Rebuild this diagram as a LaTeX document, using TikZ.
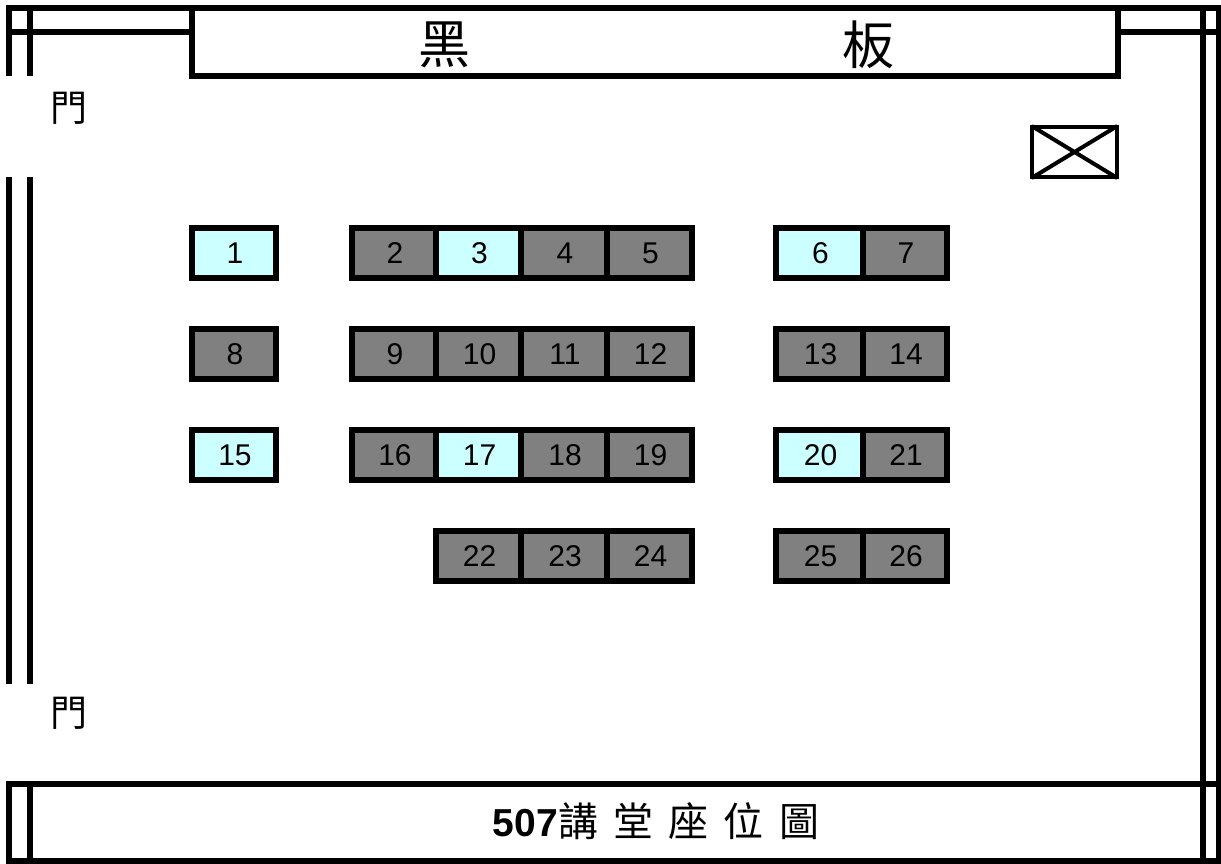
\documentclass[tikz,border=0pt]{standalone}
\usepackage{fontspec}
\setmainfont{Liberation Sans}
\newfontfamily\cjk{Noto Sans CJK TC}
\definecolor{freeseat}{HTML}{CCFFFF}
\definecolor{usedseat}{HTML}{808080}

\begin{document}
\begin{tikzpicture}[x=1pt,y=-1pt,
        wall/.style={line width=6pt},
        seat/.style={rectangle,draw=black,line width=6pt,inner sep=0pt,minimum height=50pt,text height=21pt,text depth=0pt,font=\fontsize{30}{32}\selectfont},
        free/.style={seat,fill=freeseat},
        used/.style={seat,fill=usedseat},
        mark label/.style={inner sep=0pt,font=\cjk\fontsize{37}{40}\selectfont}]
    \useasboundingbox (0,0) rectangle (1221,863);

    % walls and doors
    \draw[wall] (6,8) -- (1221,8);
    \draw[wall] (9,5) -- (9,76) (30,8) -- (30,76);
    \draw[wall] (9,177) -- (9,684) (30,177) -- (30,684);
    \draw[wall] (9,32) -- (192,32) (1118,32) -- (1219,32);
    \draw[wall] (1203,8) -- (1203,861) (1219,8) -- (1219,863);
    \draw[wall] (6,784) -- (1221,784) (6,861) -- (1221,861);
    \draw[wall] (9,781) -- (9,863) (30,784) -- (30,861);

    % blackboard
    \node[draw=black,line width=6pt,inner sep=0pt,minimum width=926pt,minimum height=68pt] (board) at (655,42) {};
    \node[inner sep=0pt,font=\cjk\fontsize{52}{56}\selectfont] (blackA) at (444,45) {黑};
    \node[inner sep=0pt,font=\cjk\fontsize{52}{56}\selectfont] (blackB) at (868,45) {板};
    \node[mark label] (door1) at (69,108) {門};
    \node[mark label] (door2) at (69,713) {門};

    % crossed box
    \node[draw=black,line width=4pt,inner sep=0pt,minimum width=85pt,minimum height=50pt] (xbox) at (1074.5,152) {};
    \draw[line width=4pt,shorten <=2pt,shorten >=2pt] (xbox.north west) -- (xbox.south east);
    \draw[line width=4pt,shorten <=2pt,shorten >=2pt] (xbox.north east) -- (xbox.south west);

    % seats: number/x/y/width/style
    \foreach \n/\x/\y/\w/\s in {
            1/234/253/84/free, 2/394/253/84/used, 3/478.5/253/85/free, 4/564/253/86/used, 5/649.5/253/85/used, 6/819.5/253/87/free, 7/905/253/84/used,
            8/234/354/84/used, 9/394/354/84/used, 10/478.5/354/85/used, 11/564/354/86/used, 12/649.5/354/85/used, 13/819.5/354/87/used, 14/905/354/84/used,
            15/234/455/84/free, 16/394/455/84/used, 17/478.5/455/85/free, 18/564/455/86/used, 19/649.5/455/85/used, 20/819.5/455/87/free, 21/905/455/84/used,
            22/478.5/556/85/used, 23/564/556/86/used, 24/649.5/556/85/used, 25/819.5/556/87/used, 26/905/556/84/used}
        \node[\s,minimum width=\w pt] (seat\n) at (\x,\y) {\hspace*{2pt}\n};

    % caption
    \node[inner sep=0pt] (caption) at (656,821) {\fontsize{39}{42}\selectfont\textbf{507}\cjk\fontsize{40}{44}\selectfont\spaceskip=15.25pt 講 堂 座 位 圖};
\end{tikzpicture}
\end{document}
